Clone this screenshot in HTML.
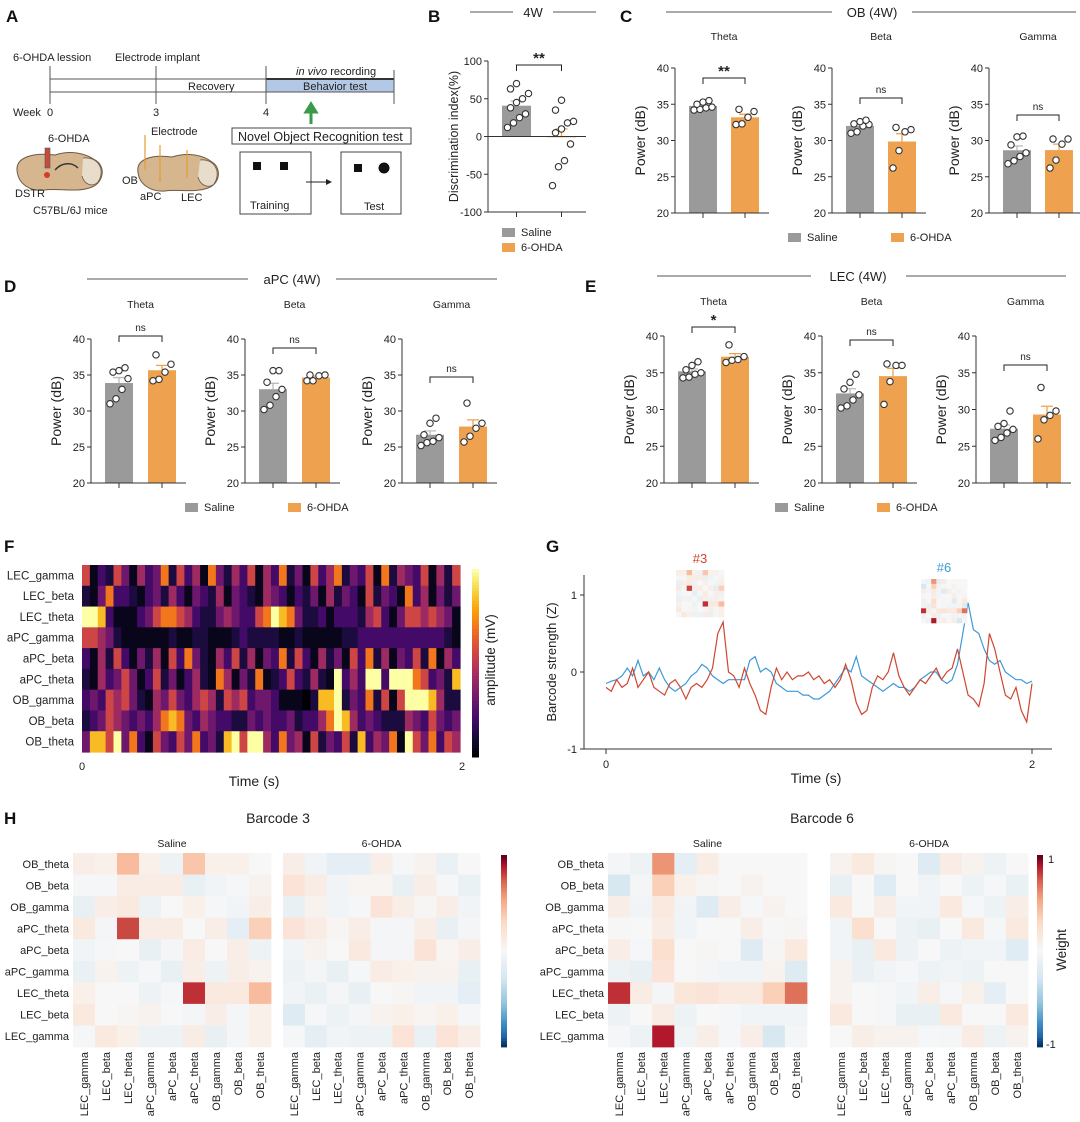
<!DOCTYPE html>
<html><head><meta charset="utf-8"><style>
body{margin:0;background:#fff;}
svg{display:block;font-family:"Liberation Sans",Arial,sans-serif;}
</style></head><body>
<svg id="root" width="1080" height="1122" viewBox="0 0 1080 1122" xmlns="http://www.w3.org/2000/svg">
<rect x="0" y="0" width="1080" height="1122" fill="#fff"/>
<g font-weight="bold" font-size="17" fill="#111">
<text x="6" y="22">A</text>
<text x="428" y="22">B</text>
<text x="620" y="22">C</text>
<text x="4" y="292">D</text>
<text x="585" y="292">E</text>
<text x="4" y="552">F</text>
<text x="546" y="552">G</text>
<text x="4" y="824">H</text>
</g>
<g font-size="11" fill="#222">
<rect x="266" y="79" width="128" height="13" fill="#b3c8e4"/>
<line x1="50" y1="79" x2="394" y2="79" stroke="#555" stroke-width="1"/>
<line x1="50" y1="92" x2="394" y2="92" stroke="#555" stroke-width="1"/>
<line x1="266" y1="79" x2="394" y2="79" stroke="#333" stroke-width="2"/>
<line x1="50" y1="66" x2="50" y2="104" stroke="#555"/>
<line x1="156" y1="66" x2="156" y2="104" stroke="#555"/>
<line x1="266" y1="66" x2="266" y2="104" stroke="#555"/>
<line x1="394" y1="70" x2="394" y2="104" stroke="#555"/>
<text x="13" y="61">6-OHDA lession</text>
<text x="115" y="61">Electrode implant</text>
<text x="296" y="75"><tspan font-style="italic">in vivo</tspan> recording</text>
<text x="188" y="90">Recovery</text>
<text x="303" y="90">Behavior test</text>
<text x="13" y="116">Week</text>
<text x="47" y="116">0</text><text x="153" y="116">3</text><text x="263" y="116">4</text>
<path d="M311,124 L311,110 M306,112 L311,104 L316,112 Z" stroke="#3a9a4a" stroke-width="3" fill="#3a9a4a"/>
<rect x="232" y="128" width="179" height="16" fill="#fff" stroke="#444"/>
<text x="238" y="141" font-size="12.5">Novel Object Recognition test</text>
<rect x="240" y="152" width="71" height="62" fill="#fff" stroke="#444"/>
<rect x="253" y="162" width="8" height="8" fill="#111"/><rect x="280" y="162" width="8" height="8" fill="#111"/>
<text x="250" y="209">Training</text>
<line x1="306" y1="182" x2="326" y2="182" stroke="#222"/><path d="M326,179 L332,182 L326,185 Z" fill="#222"/>
<rect x="341" y="152" width="60" height="62" fill="#fff" stroke="#444"/>
<rect x="354" y="164" width="8" height="8" fill="#111"/><circle cx="384" cy="168" r="5.5" fill="#111"/>
<text x="364" y="210">Test</text>
<path d="M17,170 C16,158 32,152 55,155 C70,150 85,153 95,160 C106,166 104,182 92,187 C78,193 58,188 45,190 C30,192 18,184 17,170 Z" fill="#d6b68e" stroke="#6e5a44" stroke-width="1"/>
<path d="M83,158 C98,156 106,170 98,182 C92,188 84,184 82,176" fill="#e8dccb" stroke="#6e5a44" stroke-width="0.8"/>
<path d="M55,170 C62,162 72,162 78,168" fill="none" stroke="#333" stroke-width="1.4"/>
<rect x="45" y="148" width="5" height="20" fill="#c74a3a" stroke="#555" stroke-width="0.6"/>
<circle cx="47" cy="175" r="3" fill="#d63b2a"/>
<text x="48" y="142">6-OHDA</text>
<text x="15" y="197">DSTR</text>
<text x="33" y="214">C57BL/6J mice</text>
<path d="M138,172 C136,160 150,154 172,157 C188,152 203,155 212,162 C222,168 220,184 208,188 C195,193 176,189 165,191 C150,192 139,184 138,172 Z" fill="#d6b68e" stroke="#6e5a44" stroke-width="1"/>
<path d="M200,160 C214,158 222,172 214,184 C208,189 200,185 198,177" fill="#e8dccb" stroke="#6e5a44" stroke-width="0.8"/>
<line x1="145" y1="135" x2="145" y2="170" stroke="#e0a030" stroke-width="1.2"/>
<line x1="160" y1="145" x2="160" y2="182" stroke="#e0a030" stroke-width="1.2"/>
<line x1="187" y1="150" x2="187" y2="178" stroke="#e0a030" stroke-width="1.2"/>
<text x="151" y="135">Electrode</text>
<text x="122" y="184">OB</text><text x="140" y="200">aPC</text><text x="181" y="201">LEC</text>
</g>
<g stroke="#777" stroke-width="1.2">
<line x1="470" y1="12" x2="513" y2="12"/><line x1="553" y1="12" x2="596" y2="12"/>
<line x1="666" y1="12" x2="832" y2="12"/><line x1="912" y1="12" x2="1076" y2="12"/>
<line x1="87" y1="279" x2="248" y2="279"/><line x1="336" y1="279" x2="497" y2="279"/>
<line x1="657" y1="276" x2="811" y2="276"/><line x1="906" y1="276" x2="1066" y2="276"/>
</g>
<g font-size="13" fill="#222" text-anchor="middle">
<text x="533" y="17">4W</text>
<text x="872" y="17">OB (4W)</text>
<text x="292" y="284">aPC (4W)</text>
<text x="858" y="281">LEC (4W)</text>
</g>
<g id="charts"></g>
</svg>
<script>
const groups = ['Saline', '6-OHDA'];
const cThetaSal = [34.2,34.3,34.5,34.6,35.0,35.3,35.5];
const cThetaOh = [32.2,32.3,33.2,34.0,34.3];
const cBetaSal = [31.0,31.2,32.0,32.2,32.3,32.6,32.8];
const cBetaOh = [26.2,28.6,31.2,31.5,31.8];
const cGammaSal = [26.8,27.2,27.8,28.3,29.4,30.5,30.6];
const cGammaOh = [26.2,27.3,29.5,30.2,30.2];
const dThetaSal = [31.0,31.7,33.0,34.5,35.4,35.6,36.0];
const dThetaOh = [34.2,34.4,35.4,36.5,37.8];
const dBetaSal = [30.2,30.8,32.0,33.0,34.0,35.6,35.6];
const dBetaOh = [34.2,34.2,34.9,35.0,35.0];
const dGammaSal = [25.2,25.6,25.8,26.3,26.7,28.3,29.0];
const dGammaOh = [25.7,26.5,27.6,28.3,31.1];
const eThetaSal = [34.3,34.4,34.8,35.0,35.4,36.0,36.5];
const eThetaOh = [36.4,36.7,36.8,37.2,38.8];
const eBetaSal = [30.2,30.5,31.3,32.0,32.8,33.7,34.8];
const eBetaOh = [30.7,33.8,36.0,36.0,36.2];
const eGammaSal = [25.8,26.2,26.8,27.3,27.7,28.1,29.8];
const eGammaOh = [26.0,28.6,29.2,29.8,33.0];
const bSal = [12,18,25,30,38,45,50,57,63,70];
const bOh = [-65,-40,-32,-10,5,10,18,20,35,48];
const powerTicks = [20,25,30,35,40];
const diTicks = [-100,-50,0,50,100];
const fRows = ['LEC_gamma','LEC_beta','LEC_theta','aPC_gamma','aPC_beta','aPC_theta','OB_gamma','OB_beta','OB_theta'];
const fLevels = [
'613264153472635174253615372416357243617254361526',
'214733213425314325143215431324152431624317351424',
'998311134677653224543367987422313332563146656541',
'665421111112112211123222211211111223333333333321',
'315263142516374215362514372631524163725143627153',
'215346413624135217514271236325219353993999763428',
'343656421546435652656344311102889243726169998522',
'234654343578743543322434334233579853432225436434',
'488694731643647342896995374516243628354719647365'];
const gBlue = [-0.15,-0.12,-0.1,-0.05,0.05,-0.05,0.15,-0.05,0.0,-0.1,0.05,-0.1,-0.2,-0.25,-0.2,-0.15,-0.05,0.0,0.1,0.05,-0.05,-0.1,-0.15,-0.1,-0.1,-0.1,-0.1,0.15,0.2,0.0,0.05,0.0,-0.15,-0.2,-0.25,-0.25,-0.25,-0.3,-0.3,-0.35,-0.35,-0.3,-0.25,-0.15,-0.05,0.05,0.0,0.2,-0.05,-0.1,-0.15,-0.2,-0.25,-0.2,-0.15,-0.2,-0.2,-0.25,-0.2,-0.1,-0.05,0.0,0.0,-0.1,-0.15,-0.1,0.1,0.5,0.9,0.55,0.5,0.3,0.15,0.1,0.15,0.0,-0.05,-0.1,-0.1,-0.15,-0.12];
const gRed = [-0.2,-0.25,-0.1,-0.2,-0.15,0.05,-0.2,-0.1,0.0,-0.2,-0.25,-0.3,-0.15,-0.1,-0.2,-0.35,-0.2,-0.15,-0.2,-0.1,0.05,0.5,0.65,0.0,-0.05,-0.2,0.05,-0.15,-0.3,-0.5,-0.55,-0.2,0.05,-0.1,0.0,-0.1,-0.05,-0.05,0.0,-0.1,-0.05,-0.15,-0.1,-0.2,-0.1,0.1,-0.1,-0.4,-0.55,-0.5,-0.2,-0.05,-0.1,0.0,0.25,-0.05,-0.2,-0.3,-0.2,-0.1,-0.15,-0.05,0.05,-0.1,0.0,0.05,0.3,0.0,-0.3,-0.35,-0.45,-0.15,0.5,0.3,0.0,-0.3,-0.35,-0.2,-0.5,-0.65,-0.15];
const gTicks = [-1,0,1];
const hLabels = ['LEC_gamma','LEC_beta','LEC_theta','aPC_gamma','aPC_beta','aPC_theta','OB_gamma','OB_beta','OB_theta'];
const hRowLabels = ['OB_theta','OB_beta','OB_gamma','aPC_theta','aPC_beta','aPC_gamma','LEC_theta','LEC_beta','LEC_gamma'];
const b3Saline = [
[.1,.08,.45,.08,-.08,.4,.08,.08,0],[-.02,-.02,.12,.12,.12,-.12,-.05,-.02,.05],[-.12,.1,.15,-.08,0,.08,-.02,-.05,.1],
[.15,-.03,.8,.12,.12,0,.1,-.15,.35],[-.05,-.02,0,-.12,-.03,.12,0,.1,-.08],[-.1,.05,-.08,-.02,-.12,.1,-.08,.1,.05],
[.08,0,0,-.08,-.02,.85,.15,.15,.45],[.15,0,.02,.05,0,-.03,.1,-.03,.08],[-.02,.15,.08,-.08,-.08,.12,-.12,-.03,.08]];
const b3Ohda = [
[.1,-.05,-.15,-.15,.1,-.02,.05,-.1,0],[.2,.12,-.05,.03,.03,-.12,.1,-.02,-.1],[-.12,.05,-.05,-.02,.2,.1,.02,.1,-.05],
[.2,.12,.03,.1,-.03,-.03,.1,-.12,-.03],[-.05,.05,0,.15,-.03,-.03,.2,.03,.1],[-.08,-.03,-.12,-.02,.12,.08,.05,.05,-.12],
[-.05,-.1,-.03,-.12,0,.02,-.05,-.05,-.15],[-.2,-.02,-.08,-.03,.05,.08,.03,.08,-.02],[-.02,-.15,-.05,-.08,-.08,.2,-.1,.2,.1]];
const b6Saline = [
[-.03,-.08,.6,-.15,.12,0,0,0,0],[-.25,-.03,.35,.08,.02,0,.05,0,0],[.1,-.05,.15,-.05,-.2,.1,-.02,.05,0],
[-.01,0,.12,-.05,0,0,.1,-.01,.02],[.1,-.02,.25,0,.02,0,-.2,.02,.15],[-.08,-.12,.2,0,-.03,-.05,-.05,.05,-.2],
[.85,.12,-.03,.18,.2,.15,.15,.35,.7],[-.08,0,.12,-.08,0,-.02,-.05,-.05,-.05],[-.02,-.08,.9,-.05,.1,-.02,.1,-.25,-.03]];
const b6Ohda = [
[.05,.15,.02,0,-.2,.12,.05,-.08,0],[-.12,0,-.18,0,-.05,0,-.08,-.02,-.1],[.15,0,.1,-.05,-.05,.15,-.02,-.08,.1],
[-.05,.25,0,-.08,-.12,0,.15,-.02,.15],[-.05,-.12,.15,-.08,0,-.08,-.05,-.05,-.18],[.05,-.1,-.05,-.02,-.08,-.05,-.08,0,0],
[.05,0,-.02,-.05,.1,-.02,.08,-.15,0],[.15,0,-.02,-.12,-.12,.15,0,0,.15],[0,.1,.05,.05,-.02,-.03,.12,-.08,.05]];

const NS = 'http://www.w3.org/2000/svg';
const root = document.getElementById('charts');
function add(parent, tag, attrs) {
  const e = document.createElementNS(NS, tag);
  for (const k in attrs) e.setAttribute(k, attrs[k]);
  parent.appendChild(e);
  return e;
}
function txt(parent, x, y, s, size, anchor, extra) {
  const e = add(parent, 'text', Object.assign({x: x, y: y, 'font-size': size, 'text-anchor': anchor || 'start', fill: '#222'}, extra || {}));
  e.textContent = s;
  return e;
}
function lerpColor(stops, v) {
  if (v <= stops[0][0]) return '#' + stops[0][1];
  for (let i = 1; i < stops.length; i++) {
    if (v <= stops[i][0]) {
      const a = stops[i-1], b = stops[i];
      const t = (v - a[0]) / (b[0] - a[0]);
      const ca = a[1].match(/\w\w/g).map(h => parseInt(h, 16));
      const cb = b[1].match(/\w\w/g).map(h => parseInt(h, 16));
      return 'rgb(' + ca.map((c, j) => Math.round(c + (cb[j] - c) * t)).join(',') + ')';
    }
  }
  return '#' + stops[stops.length-1][1];
}
const inferno = [[0,'000004'],[0.1,'160b39'],[0.2,'420a68'],[0.3,'6a176e'],[0.4,'932667'],[0.5,'bc3754'],[0.6,'dd513a'],[0.7,'f37819'],[0.8,'fca50a'],[0.9,'f6d746'],[1,'fcffa4']];
const rdbu = [[-1,'053061'],[-0.9,'2166ac'],[-0.75,'4393c3'],[-0.55,'92c5de'],[-0.3,'d1e5f0'],[0,'f7f7f7'],[0.3,'fddbc7'],[0.55,'f4a582'],[0.75,'d6604d'],[0.9,'b2182b'],[1,'67001f']];
const GREY = '#9a9a9a', ORANGE = '#eea24f';
function mean(a) { return a.reduce((s, v) => s + v, 0) / a.length; }
function sem(a) { const m = mean(a); return Math.sqrt(a.reduce((s, v) => s + (v - m) * (v - m), 0) / (a.length - 1)) / Math.sqrt(a.length); }

function barPanel(name, s0, yTop, yBot, lo, hi, ticks, sal, oh, bracketY, sig, title, titleY, ylabel, bw, gap) {
  const g = add(root, 'g', {});
  
  
  const ax = s0 - 14;
  const y = v => yBot - (v - lo) / (hi - lo) * (yBot - yTop);
  const base = lo < 0 ? y(0) : yBot;
  [sal, oh].forEach((vals, gi) => {
    const x0 = s0 + gi * gap;
    const m = mean(vals);
    const top = Math.min(y(m), base), h = Math.abs(y(m) - base);
    const bar = add(g, 'rect', {x: x0, y: top, width: bw, height: h, fill: gi ? ORANGE : GREY});
    
    
    const se = sem(vals), cx = x0 + bw / 2;
    const eb = add(g, 'path', {d: 'M' + cx + ',' + y(m) + ' V' + y(m + se) + ' M' + (cx - 6) + ',' + y(m + se) + ' H' + (cx + 6), stroke: gi ? ORANGE : '#bbb', 'stroke-width': 1.3, fill: 'none'});
    
    
    vals.forEach((v, i) => {
      const off = ((i % 4) - 1.5) * 6 + (i >= 4 ? 3 : 0);
      const d = add(g, 'circle', {cx: cx + off, cy: y(v), r: 3.2, fill: '#fff', stroke: '#333', 'stroke-width': 1.1});
      
      
    });
    add(g, 'line', {x1: cx, y1: yBot, x2: cx, y2: yBot + 5, stroke: '#333'});
  });
  const axis = add(g, 'path', {d: 'M' + ax + ',' + yTop + ' V' + yBot + ' H' + (s0 + gap + bw + 10), stroke: '#333', fill: 'none', 'stroke-width': 1});
  
  
  if (lo < 0) add(g, 'line', {x1: ax, y1: y(0), x2: s0 + gap + bw + 10, y2: y(0), stroke: '#333'});
  ticks.forEach(t => {
    add(g, 'line', {x1: ax - 4, y1: y(t), x2: ax, y2: y(t), stroke: '#333'});
    const tl = txt(g, ax - 6, y(t) + 4, String(t), 11, 'end');
    
    
  });
  const yl = txt(g, 0, 0, ylabel, ylabel.length > 12 ? 12.5 : 14, 'middle', {transform: 'translate(' + (ax - 30) + ',' + ((yTop + yBot) / 2) + ') rotate(-90)'});
  
  
  const c1 = s0 + bw / 2, c2 = s0 + gap + bw / 2;
  const br = add(g, 'path', {d: 'M' + c1 + ',' + (bracketY + 6) + ' V' + bracketY + ' H' + c2 + ' V' + (bracketY + 6), stroke: '#222', fill: 'none', 'stroke-width': 1});
  
  
  const st = txt(g, (c1 + c2) / 2, bracketY - (sig === 'ns' ? 5 : 2), sig, sig === 'ns' ? 10 : 15, 'middle', sig === 'ns' ? {} : {'font-weight': 'bold'});
  
  
  if (title) {
    const tt = txt(g, (c1 + c2) / 2, titleY, title, 10.5, 'middle');
    
    
  }
}
barPanel('b-discrimination', 502, 61, 212, -100, 100, diTicks, bSal, bOh, 65, '**', null, 0, 'Discrimination index(%)', 29, 45);
barPanel('c-theta', 689, 68, 213, 20, 40, powerTicks, cThetaSal, cThetaOh, 78, '**', 'Theta', 40, 'Power (dB)', 28, 42);
barPanel('c-beta', 846, 68, 213, 20, 40, powerTicks, cBetaSal, cBetaOh, 98, 'ns', 'Beta', 40, 'Power (dB)', 28, 42);
barPanel('c-gamma', 1003, 68, 213, 20, 40, powerTicks, cGammaSal, cGammaOh, 115, 'ns', 'Gamma', 40, 'Power (dB)', 28, 42);
barPanel('d-theta', 105, 339, 483, 20, 40, powerTicks, dThetaSal, dThetaOh, 336, 'ns', 'Theta', 308, 'Power (dB)', 28, 43);
barPanel('d-beta', 259, 339, 483, 20, 40, powerTicks, dBetaSal, dBetaOh, 348, 'ns', 'Beta', 308, 'Power (dB)', 28, 43);
barPanel('d-gamma', 416, 339, 483, 20, 40, powerTicks, dGammaSal, dGammaOh, 377, 'ns', 'Gamma', 308, 'Power (dB)', 28, 43);
barPanel('e-theta', 678, 336, 483, 20, 40, powerTicks, eThetaSal, eThetaOh, 327, '*', 'Theta', 305, 'Power (dB)', 28, 43);
barPanel('e-beta', 836, 336, 483, 20, 40, powerTicks, eBetaSal, eBetaOh, 340, 'ns', 'Beta', 305, 'Power (dB)', 28, 43);
barPanel('e-gamma', 990, 336, 483, 20, 40, powerTicks, eGammaSal, eGammaOh, 365, 'ns', 'Gamma', 305, 'Power (dB)', 28, 43);

function legend(name, entries) {
  const g = add(root, 'g', {});
  
  
  entries.forEach((en, i) => {
    const r = add(g, 'rect', {x: en[0], y: en[1] - 8, width: 13, height: 9, fill: i ? ORANGE : GREY});
    
    
    const t = txt(g, en[0] + 19, en[1], groups[i], 11, 'start');
    
    
  });
}
legend('b-legend', [[502, 236], [502, 251]]);
legend('c-legend', [[788, 241], [891, 241]]);
legend('d-legend', [[185, 511], [288, 511]]);
legend('e-legend', [[775, 511], [877, 511]]);

(function () {
  const g = add(root, 'g', {});
  
  
  const x0 = 82, x1 = 460, y0 = 565, y1 = 752;
  const rh = (y1 - y0) / fRows.length;
  fRows.forEach((rn, r) => {
    const vals = fLevels[r].split('').map(Number);
    const cw = (x1 - x0) / vals.length;
    vals.forEach((v, c) => {
      const cell = add(g, 'rect', {x: x0 + c * cw, y: y0 + r * rh, width: cw + 0.6, height: rh + 0.6, fill: lerpColor(inferno, Math.pow(v / 9, 1.45))});
      
      
    });
    const l = txt(g, 74, y0 + r * rh + rh / 2 + 4, rn, 11.5, 'end');
    
    
  });
  for (let i = 0; i < 60; i++) {
    const cb = add(g, 'rect', {x: 472, y: 757 - (i + 1) * (188 / 60), width: 7, height: 188 / 60 + 0.5, fill: lerpColor(inferno, i / 59)});
    
    
  }
  const t0 = txt(g, 82, 770, '0', 11, 'middle');  
  const t2 = txt(g, 462, 770, '2', 11, 'middle');  
  const xt = txt(g, 254, 786, 'Time (s)', 14, 'middle');  
  const ct = txt(g, 0, 0, 'amplitude (mV)', 13.5, 'middle', {transform: 'translate(495,660) rotate(-90)'});  
})();

function miniGrid(g, grid, x, y, w, h, name) {
  const cw = w / 9, ch = h / 9;
  grid.forEach((row, r) => row.forEach((v, c) => {
    const e = add(g, 'rect', {x: x + c * cw, y: y + r * ch, width: cw + 0.3, height: ch + 0.3, fill: lerpColor(rdbu, v)});
    
    
  }));
}
(function () {
  const g = add(root, 'g', {});
  
  
  const X = t => 606 + t / 2 * (1032 - 606);
  const Y = v => 672 - v * 77;
  const ax = add(g, 'path', {d: 'M584,575 V749 H1052', stroke: '#333', fill: 'none'});
  
  
  gTicks.forEach(t => {
    add(g, 'line', {x1: 580, y1: Y(t), x2: 584, y2: Y(t), stroke: '#333'});
    const l = txt(g, 577, Y(t) + 4, String(t), 11, 'end');
    
    
  });
  [0, 2].forEach(t => {
    add(g, 'line', {x1: X(t), y1: 749, x2: X(t), y2: 754, stroke: '#333'});
    const l = txt(g, X(t), 768, String(t), 11, 'middle');
    
    
  });
  const xt = txt(g, 816, 783, 'Time (s)', 14, 'middle');  
  const yt = txt(g, 0, 0, 'Barcode strength (Z)', 13, 'middle', {transform: 'translate(556,662) rotate(-90)'});  
  [[gBlue, '#3d9ad8', 'g-line-barcode-6'], [gRed, '#cf4630', 'g-line-barcode-3']].forEach(s => {
    const vals = s[0];
    const d = vals.map((v, i) => (i ? 'L' : 'M') + X(i / (vals.length - 1) * 2).toFixed(1) + ',' + Y(v).toFixed(1)).join(' ');
    const p = add(g, 'path', {d: d, stroke: s[1], fill: 'none', 'stroke-width': 1.2});
    
    
  });
  miniGrid(g, b3Saline, 676, 570, 48, 47, 'g-inset-3-cell');
  miniGrid(g, b6Saline, 921, 579, 46, 44, 'g-inset-6-cell');
  const l3 = txt(g, 700, 563, '#3', 13, 'middle', {fill: '#cf4630'});  
  const l6 = txt(g, 944, 572, '#6', 13, 'middle', {fill: '#3d9ad8'});  
})();

function weightMap(name, grid, x0, x1, y0, y1, title, rowLabels) {
  const g = add(root, 'g', {});
  
  
  const cw = (x1 - x0) / 9, ch = (y1 - y0) / 9;
  grid.forEach((row, r) => row.forEach((v, c) => {
    const e = add(g, 'rect', {x: x0 + c * cw, y: y0 + r * ch, width: cw + 0.4, height: ch + 0.4, fill: lerpColor(rdbu, v)});
    
    
  }));
  const t = txt(g, (x0 + x1) / 2, 847, title, 10.5, 'middle');
  
  
  hLabels.forEach((lb, c) => {
    const e = txt(g, 0, 0, lb, 11, 'end', {transform: 'translate(' + (x0 + c * cw + cw / 2 + 4) + ',' + (y1 + 5) + ') rotate(-90)'});
    
    
  });
  if (rowLabels) hRowLabels.forEach((lb, r) => {
    const e = txt(g, x0 - 4, y0 + r * ch + ch / 2 + 4, lb, 11, 'end');
    
    
  });
}
weightMap('h-b3-saline', b3Saline, 73, 271, 853, 1047, 'Saline', true);
weightMap('h-b3-ohda', b3Ohda, 283, 480, 853, 1047, '6-OHDA', false);
weightMap('h-b6-saline', b6Saline, 608, 807, 853, 1047, 'Saline', true);
weightMap('h-b6-ohda', b6Ohda, 830, 1028, 853, 1047, '6-OHDA', false);
[[501, 'h-b3-colorbar'], [1037, 'h-b6-colorbar']].forEach(cbd => {
  const g = add(root, 'g', {});
  
  
  for (let i = 0; i < 64; i++) {
    const e = add(g, 'rect', {x: cbd[0], y: 1047 - (i + 1) * (192 / 64), width: 6, height: 192 / 64 + 0.4, fill: lerpColor(rdbu, -1 + 2 * i / 63)});
    
    
  }
});
const bt3 = txt(root, 278, 823, 'Barcode 3', 14, 'middle');  
const bt6 = txt(root, 822, 823, 'Barcode 6', 14, 'middle');  
const cb1 = txt(root, 1048, 863, '1', 11, 'start');  
const cbm = txt(root, 1046, 1048, '-1', 11, 'start');  
const wt = txt(root, 0, 0, 'Weight', 13.5, 'middle', {transform: 'translate(1066,950) rotate(-90)'});  
</script>
</body></html>
